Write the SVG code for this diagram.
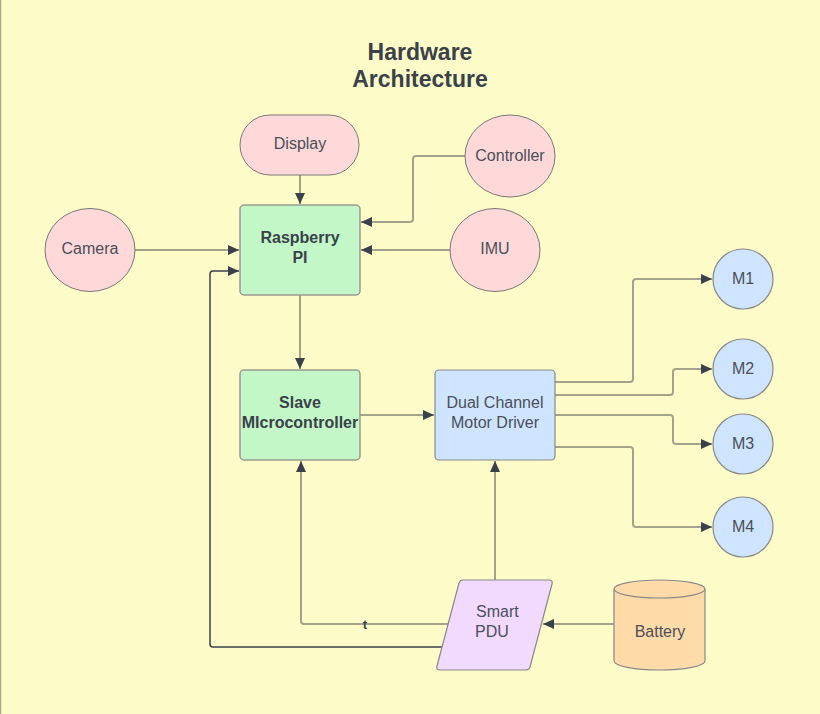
<svg xmlns="http://www.w3.org/2000/svg" width="820" height="714" viewBox="0 0 820 714">
<defs>
<marker id="arr" markerWidth="12" markerHeight="10" refX="11" refY="5" orient="auto" markerUnits="userSpaceOnUse">
<path d="M0,0 L11,5 L0,10 Z" fill="#3a414a"/>
</marker>
</defs>
<style>
.t{font-family:"Liberation Sans",Arial,sans-serif;font-size:16px;fill:#4a4f58;text-anchor:middle}
.b{font-weight:bold;fill:#3a414a}
.c{fill:none;stroke:#a3a38b;stroke-width:2;stroke-linejoin:round}
.d{fill:none;stroke:#3a414a;stroke-width:1.5;stroke-linejoin:round}
.pink{fill:#ffd9d9;stroke:#777;stroke-width:1}
.green{fill:#c3f7c8;stroke:#9a9a90;stroke-width:1.5}
.blue{fill:#cfe4ff;stroke:#888;stroke-width:1.2}
</style>
<rect x="0" y="0" width="820" height="714" fill="#fdfcc9"/>
<line x1="0.5" y1="0" x2="0.5" y2="714" stroke="#a8a890" stroke-width="1.5"/>
<g id="title">
<text class="t b" x="420" y="60" style="font-size:23px">Hardware</text>
<text class="t b" x="420" y="87" style="font-size:23px">Architecture</text>
</g>
<g id="connectors">
<path class="c" d="M300,175 L300,204" marker-end="url(#arr)"/>
<path class="c" d="M465,156 L416,156 Q413,156 413,159 L413,219 Q413,222 410,222 L361,222" marker-end="url(#arr)"/>
<path class="c" d="M450,250 L361,250" marker-end="url(#arr)"/>
<path class="c" d="M135,250 L239,250" marker-end="url(#arr)"/>
<path class="d" d="M442,647 L213,647 Q210,647 210,644 L210,274 Q210,271 213,271 L239,271" marker-end="url(#arr)"/>
<path class="c" d="M300,295 L300,369" marker-end="url(#arr)"/>
<path class="c" d="M360,415 L434,415" marker-end="url(#arr)"/>
<path class="c" d="M448,624 L304,624 Q301,624 301,621 L301,461" marker-end="url(#arr)"/>
<path class="c" d="M495,580 L495,461" marker-end="url(#arr)"/>
<path class="c" d="M614,624 L543,624" marker-end="url(#arr)"/>
<path class="c" d="M555,382 L630,382 Q633,382 633,379 L633,282 Q633,279 636,279 L712,279" marker-end="url(#arr)"/>
<path class="c" d="M555,395 L670,395 Q673,395 673,392 L673,372 Q673,369 676,369 L712,369" marker-end="url(#arr)"/>
<path class="c" d="M555,415 L670,415 Q673,415 673,418 L673,441 Q673,444 676,444 L712,444" marker-end="url(#arr)"/>
<path class="c" d="M555,447 L630,447 Q633,447 633,450 L633,524 Q633,527 636,527 L712,527" marker-end="url(#arr)"/>
<text class="t b" x="365" y="629" style="font-size:13px">t</text>
</g>
<g id="display">
<rect class="pink" x="240" y="115" width="119" height="60" rx="30"/>
<text class="t" x="300" y="149">Display</text>
</g>
<g id="controller">
<ellipse class="pink" cx="510" cy="156" rx="45" ry="41"/>
<text class="t" x="510" y="161">Controller</text>
</g>
<g id="raspberry">
<rect class="green" x="240" y="205" width="120" height="90" rx="4"/>
<text class="t b" x="300" y="243">Raspberry</text>
<text class="t b" x="300" y="263">PI</text>
</g>
<g id="imu">
<ellipse class="pink" cx="495" cy="250" rx="45" ry="41.5"/>
<text class="t" x="495" y="254">IMU</text>
</g>
<g id="camera">
<ellipse class="pink" cx="90" cy="250" rx="45" ry="41.5"/>
<text class="t" x="90" y="254">Camera</text>
</g>
<g id="slave">
<rect class="green" x="240" y="370" width="120" height="90" rx="4"/>
<text class="t b" x="300" y="408">Slave</text>
<text class="t b" x="300" y="428">MIcrocontroller</text>
</g>
<g id="driver">
<rect class="blue" x="435" y="370" width="120" height="90" rx="4"/>
<text class="t" x="495" y="408">Dual Channel</text>
<text class="t" x="495" y="428">Motor Driver</text>
</g>
<g id="m1">
<circle class="blue" cx="743" cy="279" r="30"/>
<text class="t" x="743" y="284">M1</text>
</g>
<g id="m2">
<circle class="blue" cx="743" cy="369" r="30"/>
<text class="t" x="743" y="374">M2</text>
</g>
<g id="m3">
<circle class="blue" cx="743" cy="444" r="30"/>
<text class="t" x="743" y="449">M3</text>
</g>
<g id="m4">
<circle class="blue" cx="743" cy="527" r="30"/>
<text class="t" x="743" y="532">M4</text>
</g>
<g id="pdu">
<path d="M463,580 L549,580 Q553,580 552,584 L530,667 Q529,670 525,670 L440,670 Q436,670 437,666 L459,583 Q460,580 463,580 Z" fill="#f2daff" stroke="#888" stroke-width="1.2"/>
<text class="t" x="476" y="617" style="text-anchor:start">Smart</text>
<text class="t" x="475" y="637" style="text-anchor:start">PDU</text>
</g>
<g id="battery">
<path d="M614,589 L614,661 A45.5,9 0 0 0 705,661 L705,589" fill="#ffdba9" stroke="#888" stroke-width="1.2"/>
<ellipse cx="659.5" cy="589" rx="45.5" ry="9" fill="#ffdba9" stroke="#888" stroke-width="1.2"/>
<text class="t" x="660" y="637">Battery</text>
</g>
</svg>
